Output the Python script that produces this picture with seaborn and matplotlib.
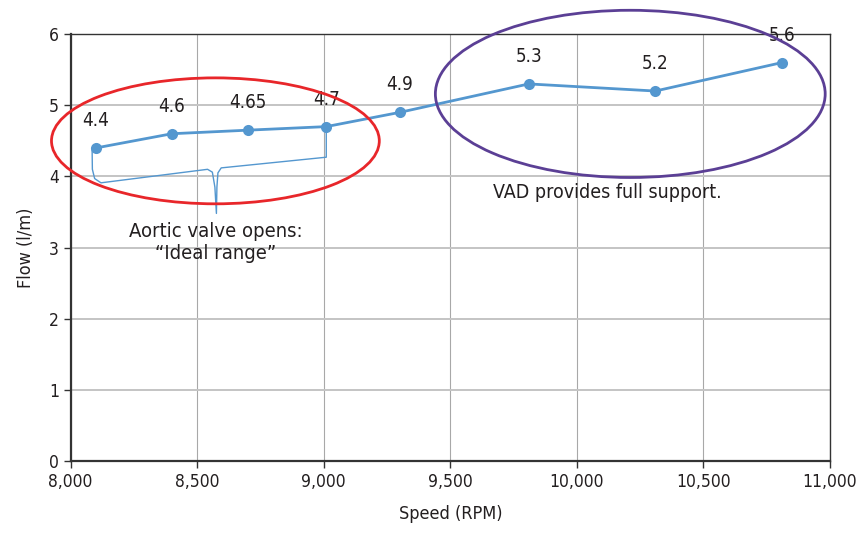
import numpy as np
import pandas as pd
import matplotlib
matplotlib.use("Agg")
import matplotlib.pyplot as plt
import seaborn as sns
from matplotlib.patches import Ellipse
from matplotlib.ticker import FuncFormatter, MultipleLocator

# data
speed = [8100, 8400, 8700, 9010, 9300, 9810, 10310, 10810]
flow = [4.4, 4.6, 4.65, 4.7, 4.9, 5.3, 5.2, 5.6]
point_labels = ["4.4", "4.6", "4.65", "4.7", "4.9", "5.3", "5.2", "5.6"]

df = pd.DataFrame({"speed": speed, "flow": flow})

sns.set_style("white")
plt.rcParams["font.family"] = ["DejaVu Sans"]
plt.rcParams["font.stretch"] = "condensed"

LINE = "#5497cf"
TXT = "#231f20"

fig = plt.figure(figsize=(8.61, 5.33), dpi=100)
ax = fig.add_axes([0.082, 0.135, 0.882, 0.801])

sns.lineplot(data=df, x="speed", y="flow", ax=ax, color=LINE, linewidth=2,
             marker="o", markersize=8, markeredgewidth=0, zorder=3)

for x, y, lab in zip(speed, flow, point_labels):
    ax.annotate(lab, (x, y), xytext=(0, 13), textcoords="offset points",
                ha="center", va="bottom", fontsize=13.5, color=TXT)

ax.set_xlim(8000, 11000)
ax.set_ylim(0, 6)
ax.xaxis.set_major_locator(MultipleLocator(500))
ax.yaxis.set_major_locator(MultipleLocator(1))
ax.xaxis.set_major_formatter(FuncFormatter(lambda v, p: f"{int(v):,}"))

ax.grid(axis="x", color="#a8a8a8", linewidth=0.8)
ax.grid(axis="y", color="#c4c4c4", linewidth=1.4)
ax.set_axisbelow(True)
for s in ax.spines.values():
    s.set_color("#333333")
    s.set_linewidth(1.0)
ax.spines["left"].set_linewidth(1.6)
ax.spines["bottom"].set_linewidth(1.6)

ax.tick_params(axis="both", direction="out", length=5, width=1, color="#333333",
               labelsize=12.5, labelcolor=TXT, bottom=True, left=True)
ax.set_xlabel("Speed (RPM)", fontsize=13, color=TXT, labelpad=10)
ax.set_ylabel("Flow (l/m)", fontsize=13, color=TXT, labelpad=10)

# highlight ellipses
ax.add_patch(Ellipse((8572, 4.50), 1295, 1.77, fill=False, edgecolor="#e8262a",
                     linewidth=2, zorder=4, clip_on=False))
ax.add_patch(Ellipse((10211, 5.16), 1540, 2.35, fill=False, edgecolor="#5b3f95",
                     linewidth=2, zorder=4, clip_on=False))

# curly brace under the first four points
bx = [speed[0] - 15, speed[0] - 14, speed[0] - 5, speed[0] + 20, 8541, 8560,
      8570, 8576, 8578, 8582, 8595, speed[3], speed[3]]
by = [4.37, 4.10, 3.97, 3.91, 4.10, 4.06, 3.85, 3.48, 3.85, 4.05, 4.12, 4.27, 4.65]
ax.plot(bx, by, color=LINE, linewidth=1, zorder=2)

ax.text(8572, 3.07, "Aortic valve opens:\n\u201cIdeal range\u201d", ha="center",
        va="center", fontsize=14.5, color=TXT, linespacing=1.2)
ax.text(10120, 3.78, "VAD provides full support.", ha="center", va="center",
        fontsize=14, color=TXT)

fig.savefig("out.png", dpi=100)
